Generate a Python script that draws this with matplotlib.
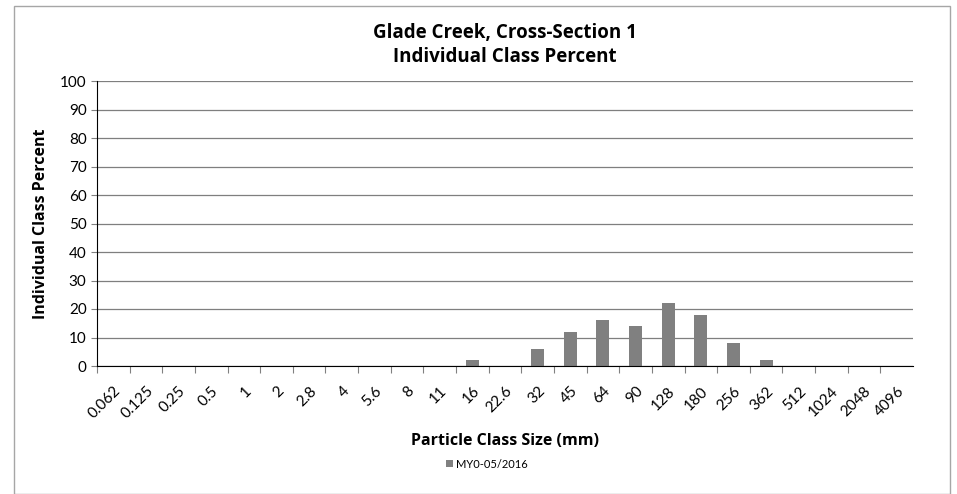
import matplotlib
matplotlib.use("Agg")
import matplotlib.pyplot as plt
from matplotlib.patches import Rectangle

plt.rcParams['font.family'] = ['Lato', 'DejaVu Sans']
BOLD = ['Open Sans', 'DejaVu Sans']

categories = ["0.062", "0.125", "0.25", "0.5", "1", "2", "2.8", "4", "5.6", "8", "11",
              "16", "22.6", "32", "45", "64", "90", "128", "180", "256", "362", "512",
              "1024", "2048", "4096"]
values = [0, 0, 0, 0, 0, 0, 0, 0, 0, 0, 0, 2, 0, 6, 12, 16, 14, 22, 18, 8, 2, 0, 0, 0, 0]
series_name = "MY0-05/2016"
yticks = list(range(0, 101, 10))

fig = plt.figure(figsize=(9.57, 4.94), dpi=100)
fig.patches.append(Rectangle((14/957, 0.0), (950-14)/957, (494-6)/494 - 0.0,
                             transform=fig.transFigure, fill=False,
                             edgecolor="#a6a6a6", linewidth=1.0))
ax = fig.add_axes([97/957, 1-366/494, (913-97)/957, (366-81)/494])

x = list(range(len(categories)))
ax.bar(x, values, width=0.4, color="#808080", label=series_name, zorder=3)
ax.set_xlim(-0.5, len(categories) - 0.5)
ax.set_ylim(0, 100)
ax.set_yticks(yticks)
ax.yaxis.grid(True, color="#7f7f7f", linewidth=0.9, zorder=0)
ax.set_xticks([i + 0.5 for i in x[:-1]] + [-0.5], minor=False)
ax.set_xticklabels([""] * len(categories))
ax.tick_params(axis='x', which='major', length=5, color="#808080", direction='out')
ax.set_xticks(x, labels=categories, minor=True)
ax.tick_params(axis='x', which='minor', length=0, labelsize=11, labelrotation=45, pad=13)
for lab in ax.get_xticklabels(minor=True):
    lab.set_ha('right')
    lab.set_rotation_mode('anchor')
ax.tick_params(axis='y', labelsize=11, length=4, color="#808080")
for s in ['top', 'right']:
    ax.spines[s].set_visible(False)
ax.spines['left'].set_color("#000000")
ax.spines['bottom'].set_color("#000000")
ax.spines['bottom'].set_zorder(4)

ax.set_xlabel("Particle Class Size (mm)", fontsize=11.5, fontweight='bold', family=BOLD, labelpad=8)
ax.set_ylabel("Individual Class Percent", fontsize=11.5, fontweight='bold', family=BOLD, labelpad=8)
cx = 0.5 * (97 + 913) / 957
fig.text(cx, 1 - 33 / 494, "Glade Creek, Cross-Section 1",
         ha='center', va='center', fontsize=13.5, fontweight='bold', family=BOLD)
fig.text(cx, 1 - 57 / 494, "Individual Class Percent",
         ha='center', va='center', fontsize=13.5, fontweight='bold', family=BOLD)

leg = fig.legend(loc='center', bbox_to_anchor=(487 / 957, 1 - 464 / 494), frameon=False,
                 fontsize=8, handlelength=0.6, handleheight=0.6, handletextpad=0.3)

fig.savefig("out.png", dpi=100)
